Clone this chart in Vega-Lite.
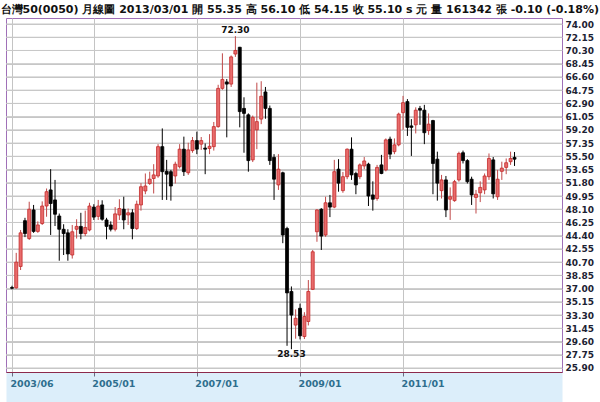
{
  "$schema": "https://vega.github.io/schema/vega-lite/v6.json",
  "width": 556,
  "height": 354,
  "autosize": "none",
  "padding": {"left": 6, "top": 18, "right": 38, "bottom": 30},
  "background": "white",
  "title": {
    "text": "台灣50(0050)  月線圖  2013/03/01  開 55.35  高 56.10  低 54.15  收 55.10 s 元  量 161342 張  -0.10 (-0.18%)",
    "anchor": "start",
    "font": "DejaVu Sans",
    "fontSize": 11,
    "fontWeight": "bold",
    "color": "#111111",
    "offset": 3,
    "dx": -5
  },
  "config": {
    "view": {"stroke": "#a070b8", "strokeWidth": 1},
    "font": "DejaVu Sans",
    "axisY": {
      "labelOverlap": false, "labelFlush": false, "labelBound": false, "tickCount": 40,
      "grid": true, "gridColor": "#c6c6c6", "gridWidth": 1,
      "domain": false, "ticks": false, "labelPadding": 3,
      "labelFont": "DejaVu Sans", "labelFontSize": 9, "labelFontWeight": "bold", "labelColor": "#1c2233"
    }
  },
  "datasets": {
    "grid": [
      {"v":25.9},{"v":27.75},{"v":29.6},{"v":31.45},{"v":33.3},{"v":35.15},{"v":37.0},{"v":38.85},{"v":40.7},
      {"v":42.55},{"v":44.4},{"v":46.25},{"v":48.1},{"v":49.95},{"v":51.8},{"v":53.65},{"v":55.5},{"v":57.35},
      {"v":59.2},{"v":61.05},{"v":62.9},{"v":64.75},{"v":66.6},{"v":68.45},{"v":70.3},{"v":72.15},{"v":74.0}
    ],
    "candles": [
      {"d":"2003-06","o":37.15,"h":37.4,"l":36.9,"c":37.05},
      {"d":"2003-07","o":37.1,"h":42.0,"l":37.0,"c":40.7},
      {"d":"2003-08","o":40.1,"h":45.2,"l":39.6,"c":44.8},
      {"d":"2003-09","o":46.5,"h":46.9,"l":44.2,"c":44.7},
      {"d":"2003-10","o":44.0,"h":49.15,"l":43.8,"c":48.1},
      {"d":"2003-11","o":48.0,"h":48.7,"l":44.8,"c":45.0},
      {"d":"2003-12","o":45.0,"h":46.4,"l":44.8,"c":45.9},
      {"d":"2004-01","o":46.1,"h":49.2,"l":45.9,"c":48.55},
      {"d":"2004-02","o":48.55,"h":51.0,"l":47.05,"c":50.55},
      {"d":"2004-03","o":50.8,"h":53.7,"l":44.5,"c":48.9},
      {"d":"2004-04","o":49.4,"h":52.2,"l":45.75,"c":47.4},
      {"d":"2004-05","o":47.15,"h":47.5,"l":40.9,"c":45.3},
      {"d":"2004-06","o":45.3,"h":46.0,"l":41.7,"c":44.7},
      {"d":"2004-07","o":44.8,"h":45.3,"l":40.9,"c":41.85},
      {"d":"2004-08","o":41.7,"h":45.9,"l":41.2,"c":44.95},
      {"d":"2004-09","o":45.3,"h":46.7,"l":44.0,"c":45.7},
      {"d":"2004-10","o":45.7,"h":47.6,"l":43.9,"c":44.7},
      {"d":"2004-11","o":44.7,"h":47.9,"l":44.35,"c":45.55},
      {"d":"2004-12","o":45.2,"h":49.0,"l":45.0,"c":48.55},
      {"d":"2005-01","o":48.4,"h":48.8,"l":46.6,"c":47.0},
      {"d":"2005-02","o":47.1,"h":49.4,"l":46.6,"c":48.55},
      {"d":"2005-03","o":48.7,"h":49.35,"l":46.5,"c":46.7},
      {"d":"2005-04","o":46.6,"h":46.9,"l":43.9,"c":45.7},
      {"d":"2005-05","o":45.9,"h":46.4,"l":45.0,"c":45.3},
      {"d":"2005-06","o":45.3,"h":48.4,"l":45.0,"c":47.45},
      {"d":"2005-07","o":47.3,"h":49.5,"l":46.6,"c":48.2},
      {"d":"2005-08","o":48.1,"h":49.85,"l":45.3,"c":46.6},
      {"d":"2005-09","o":47.3,"h":48.2,"l":45.9,"c":47.6},
      {"d":"2005-10","o":47.6,"h":48.1,"l":43.9,"c":45.4},
      {"d":"2005-11","o":45.4,"h":49.3,"l":45.2,"c":48.8},
      {"d":"2005-12","o":48.7,"h":51.75,"l":47.9,"c":51.25},
      {"d":"2006-01","o":50.65,"h":53.1,"l":50.2,"c":51.35},
      {"d":"2006-02","o":51.7,"h":53.35,"l":51.5,"c":52.3},
      {"d":"2006-03","o":52.4,"h":54.4,"l":50.3,"c":52.9},
      {"d":"2006-04","o":52.75,"h":57.2,"l":52.5,"c":56.85},
      {"d":"2006-05","o":56.85,"h":59.4,"l":49.4,"c":53.35},
      {"d":"2006-06","o":53.4,"h":55.0,"l":49.4,"c":53.0},
      {"d":"2006-07","o":53.35,"h":53.6,"l":49.3,"c":51.35},
      {"d":"2006-08","o":52.75,"h":54.75,"l":51.7,"c":54.4},
      {"d":"2006-09","o":54.05,"h":57.2,"l":53.8,"c":56.5},
      {"d":"2006-10","o":56.5,"h":58.25,"l":52.75,"c":53.35},
      {"d":"2006-11","o":53.2,"h":57.4,"l":52.9,"c":56.4},
      {"d":"2006-12","o":56.3,"h":58.2,"l":56.0,"c":57.7},
      {"d":"2007-01","o":57.7,"h":58.95,"l":55.8,"c":56.5},
      {"d":"2007-02","o":57.2,"h":58.2,"l":56.4,"c":57.7},
      {"d":"2007-03","o":56.65,"h":57.3,"l":53.0,"c":56.5},
      {"d":"2007-04","o":56.6,"h":58.6,"l":55.8,"c":56.9},
      {"d":"2007-05","o":56.85,"h":60.3,"l":56.3,"c":59.65},
      {"d":"2007-06","o":59.65,"h":65.5,"l":59.5,"c":65.0},
      {"d":"2007-07","o":65.0,"h":69.9,"l":64.8,"c":66.25},
      {"d":"2007-08","o":65.9,"h":66.3,"l":58.15,"c":65.6},
      {"d":"2007-09","o":65.6,"h":69.6,"l":65.2,"c":69.4},
      {"d":"2007-10","o":69.8,"h":72.3,"l":69.4,"c":70.3},
      {"d":"2007-11","o":70.75,"h":70.8,"l":59.55,"c":61.75},
      {"d":"2007-12","o":62.2,"h":63.75,"l":56.0,"c":61.5},
      {"d":"2008-01","o":61.3,"h":61.5,"l":53.35,"c":54.9},
      {"d":"2008-02","o":55.0,"h":61.2,"l":54.7,"c":60.95},
      {"d":"2008-03","o":59.2,"h":65.8,"l":56.5,"c":60.35},
      {"d":"2008-04","o":60.7,"h":66.0,"l":60.0,"c":63.9},
      {"d":"2008-05","o":64.5,"h":65.2,"l":60.75,"c":62.2},
      {"d":"2008-06","o":62.2,"h":62.6,"l":54.3,"c":54.9},
      {"d":"2008-07","o":55.35,"h":55.8,"l":49.4,"c":52.3},
      {"d":"2008-08","o":51.5,"h":55.8,"l":50.8,"c":53.7},
      {"d":"2008-09","o":53.2,"h":53.35,"l":43.35,"c":44.5},
      {"d":"2008-10","o":45.4,"h":45.65,"l":29.0,"c":36.4},
      {"d":"2008-11","o":36.6,"h":37.3,"l":28.53,"c":33.3},
      {"d":"2008-12","o":31.9,"h":34.1,"l":30.0,"c":32.85},
      {"d":"2009-01","o":34.25,"h":34.9,"l":29.9,"c":30.4},
      {"d":"2009-02","o":30.3,"h":33.7,"l":29.95,"c":33.1},
      {"d":"2009-03","o":32.4,"h":38.2,"l":31.85,"c":36.6},
      {"d":"2009-04","o":36.9,"h":42.4,"l":36.8,"c":42.15},
      {"d":"2009-05","o":44.95,"h":48.1,"l":43.55,"c":48.0},
      {"d":"2009-06","o":48.1,"h":48.25,"l":42.4,"c":44.35},
      {"d":"2009-07","o":44.5,"h":49.85,"l":44.25,"c":49.0},
      {"d":"2009-08","o":49.0,"h":50.1,"l":47.0,"c":48.4},
      {"d":"2009-09","o":48.4,"h":55.0,"l":48.25,"c":53.35},
      {"d":"2009-10","o":53.7,"h":55.1,"l":50.55,"c":51.75},
      {"d":"2009-11","o":50.7,"h":53.3,"l":50.4,"c":52.65},
      {"d":"2009-12","o":52.65,"h":56.6,"l":52.3,"c":56.5},
      {"d":"2010-01","o":56.5,"h":58.15,"l":52.2,"c":52.9},
      {"d":"2010-02","o":53.1,"h":53.35,"l":50.2,"c":51.5},
      {"d":"2010-03","o":52.65,"h":54.5,"l":52.3,"c":54.3},
      {"d":"2010-04","o":54.15,"h":55.4,"l":53.7,"c":54.85},
      {"d":"2010-05","o":54.4,"h":54.6,"l":48.55,"c":49.95},
      {"d":"2010-06","o":50.1,"h":52.0,"l":47.9,"c":49.5},
      {"d":"2010-07","o":49.6,"h":54.3,"l":49.3,"c":53.95},
      {"d":"2010-08","o":54.3,"h":55.7,"l":53.0,"c":53.1},
      {"d":"2010-09","o":53.6,"h":58.0,"l":53.4,"c":57.8},
      {"d":"2010-10","o":57.9,"h":58.25,"l":55.1,"c":55.8},
      {"d":"2010-11","o":56.15,"h":58.0,"l":55.8,"c":57.1},
      {"d":"2010-12","o":57.1,"h":61.6,"l":56.9,"c":61.4},
      {"d":"2011-01","o":61.6,"h":63.95,"l":59.2,"c":63.0},
      {"d":"2011-02","o":63.15,"h":63.5,"l":58.35,"c":59.55},
      {"d":"2011-03","o":59.75,"h":60.7,"l":55.55,"c":59.55},
      {"d":"2011-04","o":59.9,"h":62.35,"l":58.7,"c":61.95},
      {"d":"2011-05","o":62.2,"h":62.55,"l":59.9,"c":61.95},
      {"d":"2011-06","o":61.95,"h":62.7,"l":57.2,"c":58.8},
      {"d":"2011-07","o":59.1,"h":61.5,"l":58.5,"c":60.0},
      {"d":"2011-08","o":60.5,"h":60.6,"l":50.2,"c":54.5},
      {"d":"2011-09","o":55.1,"h":56.15,"l":49.3,"c":51.75},
      {"d":"2011-10","o":50.7,"h":52.9,"l":49.6,"c":52.2},
      {"d":"2011-11","o":52.2,"h":52.75,"l":47.0,"c":48.0},
      {"d":"2011-12","o":49.5,"h":51.15,"l":46.6,"c":49.85},
      {"d":"2012-01","o":49.3,"h":52.2,"l":49.15,"c":51.95},
      {"d":"2012-02","o":52.2,"h":56.15,"l":51.95,"c":55.9},
      {"d":"2012-03","o":56.0,"h":56.3,"l":54.5,"c":54.9},
      {"d":"2012-04","o":54.9,"h":55.1,"l":51.7,"c":51.95},
      {"d":"2012-05","o":52.3,"h":52.65,"l":48.7,"c":50.1},
      {"d":"2012-06","o":49.75,"h":50.8,"l":47.5,"c":50.2},
      {"d":"2012-07","o":50.4,"h":52.0,"l":49.1,"c":51.15},
      {"d":"2012-08","o":50.8,"h":53.1,"l":50.2,"c":52.75},
      {"d":"2012-09","o":52.65,"h":55.9,"l":52.2,"c":55.2},
      {"d":"2012-10","o":55.0,"h":55.4,"l":49.6,"c":50.25},
      {"d":"2012-11","o":49.85,"h":53.6,"l":49.4,"c":52.3},
      {"d":"2012-12","o":53.4,"h":54.75,"l":52.2,"c":53.85},
      {"d":"2013-01","o":53.95,"h":55.2,"l":53.0,"c":54.6},
      {"d":"2013-02","o":54.75,"h":56.15,"l":54.3,"c":55.2},
      {"d":"2013-03","o":55.35,"h":56.1,"l":54.15,"c":55.1}
    ],
    "hi": [{"d":"2007-10","v":72.3,"t":"72.30"}],
    "lo": [{"d":"2008-11","v":28.53,"t":"28.53"}]
  },
  "resolve": {"axis": {"x": "independent"}},
  "layer": [
    {
      "data": {"name": "grid"},
      "mark": {"type": "rule", "strokeWidth": 1, "color": "#c8c8c8"},
      "encoding": {
        "y": {"field": "v", "type": "quantitative"}
      }
    },
    {
      "data": {"name": "candles"},
      "mark": {"type": "rule", "strokeWidth": 1},
      "encoding": {
        "x": {
          "field": "d", "type": "temporal",
          "scale": {"type": "utc", "domain": [{"year": 2003, "month": 5, "date": 25, "utc": true}, {"year": 2013, "month": 12, "date": 27, "utc": true}]},
          "axis": {"orient": "bottom", "offset": 15.5, "domainWidth": 30, "domainColor": "#dceefa", "ticks": false, "labels": false, "grid": false, "title": null}
        },
        "y": {
          "field": "l", "type": "quantitative",
          "scale": {"domain": [25.34, 74.84], "nice": false, "zero": false}
        },
        "y2": {"field": "h"},
        "color": {
          "condition": {"test": "datum.c < datum.o", "value": "#000000"},
          "value": "#c04848"
        }
      }
    },
    {
      "data": {"name": "candles"},
      "mark": {"type": "bar", "size": 3, "strokeWidth": 0.8},
      "encoding": {
        "x": {
          "field": "d", "type": "temporal",
          "axis": {
            "orient": "bottom", "title": null,
            "values": [{"year": 2003, "month": 6, "date": 1, "utc": true}, {"year": 2005, "month": 1, "date": 1, "utc": true}, {"year": 2007, "month": 1, "date": 1, "utc": true}, {"year": 2009, "month": 1, "date": 1, "utc": true}, {"year": 2011, "month": 1, "date": 1, "utc": true}],
            "format": "%Y/%m",
            "domain": true, "domainColor": "#8c2a4c", "domainWidth": 1,
            "ticks": true, "tickSize": 4, "tickColor": "#6a6a80",
            "labelAlign": "left", "labelOffset": -2, "labelPadding": 2,
            "labelOverlap": false, "labelFlush": false,
            "labelFont": "DejaVu Sans", "labelFontSize": 9.5, "labelFontWeight": "bold", "labelColor": "#2e6e8e",
            "grid": true, "gridColor": "#c4c4c4", "gridWidth": 1
          }
        },
        "y": {
          "field": "o", "type": "quantitative",
          "axis": {
            "orient": "right", "title": null, "tickCount": 40,
            "grid": true, "gridColor": "#c6c6c6", "gridWidth": 1,
            "values": [25.9, 27.75, 29.6, 31.45, 33.3, 35.15, 37.0, 38.85, 40.7, 42.55, 44.4, 46.25, 48.1, 49.95, 51.8, 53.65, 55.5, 57.35, 59.2, 61.05, 62.9, 64.75, 66.6, 68.45, 70.3, 72.15, 74.0],
            "format": ".2f"
          }
        },
        "y2": {"field": "c"},
        "fill": {
          "condition": {"test": "datum.c < datum.o", "value": "#000000"},
          "value": "#e86c6c"
        },
        "stroke": {
          "condition": {"test": "datum.c < datum.o", "value": "#000000"},
          "value": "#c42a2a"
        }
      }
    },
    {
      "data": {"name": "hi"},
      "mark": {"type": "text", "baseline": "bottom", "dy": -1, "font": "DejaVu Sans", "fontSize": 9, "fontWeight": "bold", "color": "#111111"},
      "encoding": {
        "x": {"field": "d", "type": "temporal", "axis": null},
        "y": {"field": "v", "type": "quantitative"},
        "text": {"field": "t"}
      }
    },
    {
      "data": {"name": "lo"},
      "mark": {"type": "text", "baseline": "top", "dy": 1, "font": "DejaVu Sans", "fontSize": 9, "fontWeight": "bold", "color": "#111111"},
      "encoding": {
        "x": {"field": "d", "type": "temporal", "axis": null},
        "y": {"field": "v", "type": "quantitative"},
        "text": {"field": "t"}
      }
    }
  ]
}
